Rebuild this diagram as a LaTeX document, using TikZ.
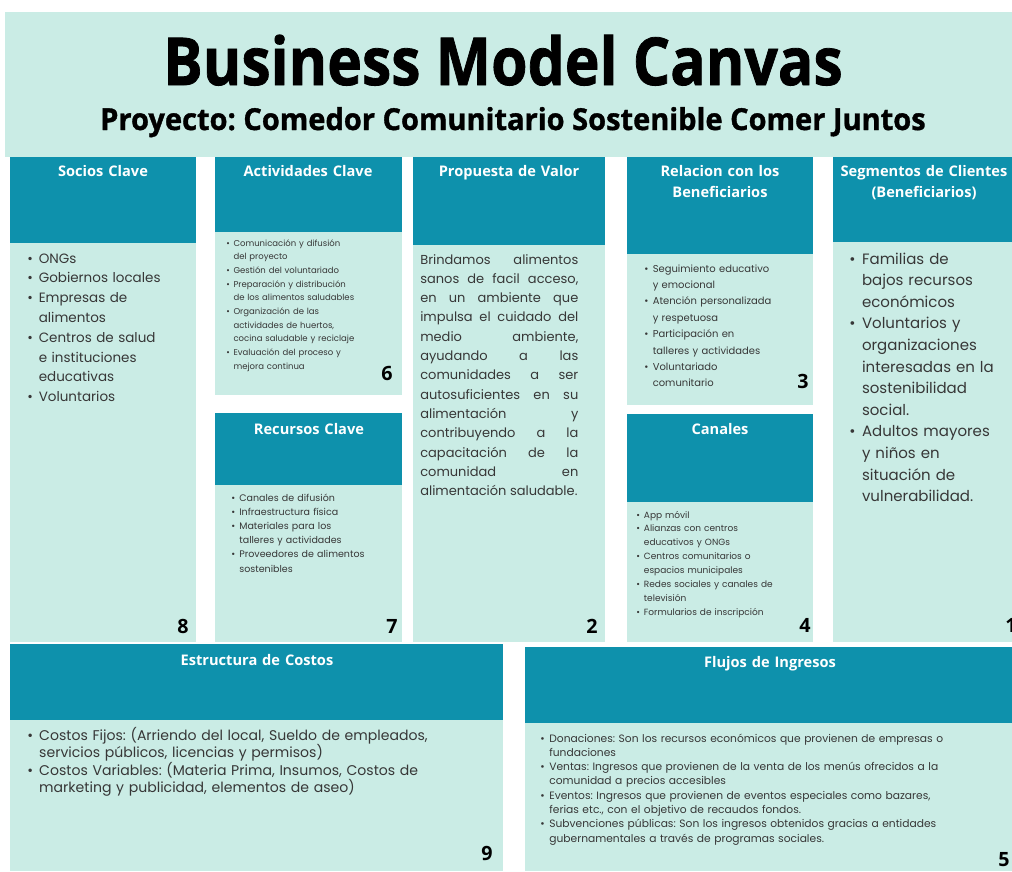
\documentclass[tikz,border=0pt]{standalone}
\usepackage{fontspec}
\setmainfont{Poppins}
\newfontfamily\headfont{Open Sans}
\newfontfamily\titlefont{Open Sans}[BoldFeatures={FakeBold=1.2}]
\definecolor{mintbg}{RGB}{202,236,229}
\definecolor{tealhead}{RGB}{14,145,172}
\definecolor{graytext}{RGB}{55,55,55}
\newcommand{\bul}{\makebox[0.85em][l]{\textbullet}}
\newcommand{\ind}{\hspace*{0.85em}}
\frenchspacing

\begin{document}
\begin{tikzpicture}[x=0.025cm, y=-0.025cm,
    headtxt/.style={font=\headfont\bfseries\fontsize{10.4}{15}\selectfont, text=white, align=center, anchor=base, text width=5cm, inner sep=0pt},
    bodytxt/.style={text=graytext, anchor=base west, inner sep=0pt, align=left},
    numtxt/.style={font=\headfont\bfseries\fontsize{14}{14}\selectfont, anchor=base east, inner sep=0pt}]
\useasboundingbox (0,0) rectangle (1012,871);
\fill[white] (0,0) rectangle (1012,871);
\fill[mintbg] (5,12) rectangle (1012,157);

% cards: left/top/right/header bottom/bottom
\foreach \xa/\ya/\xb/\ym/\yb in {10/157/196/243/642, 215/157/402/232/395, 215/413/402/485/642,
    413/157/605/245/642, 627/157/813/254/405, 627/414/813/502/642, 833/157/1012/242/642,
    10/644/503/720/871, 525/647/1012/723/871}{
    \fill[tealhead] (\xa,\ya) rectangle (\xb,\ym);
    \fill[mintbg] (\xa,\ym) rectangle (\xb,\yb);
}

% title
\node[font=\titlefont\bfseries\fontsize{47}{50}\selectfont, xscale=0.89, anchor=base] (title) at (503,85) {Business Model Canvas};
\node[font=\titlefont\bfseries\fontsize{21.5}{24}\selectfont, xscale=0.96, anchor=base] (subtitle) at (513,130) {Proyecto: Comedor Comunitario Sostenible Comer Juntos};

% headers
\node[headtxt] (socios) at (103,176) {Socios Clave};
\node[headtxt] (activ) at (308,176) {Actividades Clave};
\node[headtxt] (propuesta) at (509,176) {Propuesta de Valor};
\node[headtxt] (relacion) at (720,176) {Relacion con los\\Beneficiarios};
\node[headtxt] (segmentos) at (924,176) {Segmentos de Clientes\\(Beneficiarios)};
\node[headtxt] (recursos) at (309,434) {Recursos Clave};
\node[headtxt] (canales) at (720,434) {Canales};
\node[headtxt] (costos) at (257,665) {Estructura de Costos};
\node[headtxt] (ingresos) at (770,667) {Flujos de Ingresos};

% contents
\node[bodytxt, text width=4.3cm, font=\fontsize{9.6}{14.1}\selectfont] (sociostxt) at (27,263) {%
\bul ONGs\\
\bul Gobiernos locales\\
\bul Empresas de\\ \ind alimentos\\
\bul Centros de salud\\ \ind e instituciones\\ \ind educativas\\
\bul Voluntarios};

\node[bodytxt, text width=4.4cm, font=\fontsize{6.05}{9.75}\selectfont] (activtxt) at (226,246) {%
\bul Comunicación y difusión\\ \ind del proyecto\\
\bul Gestión del voluntariado\\
\bul Preparación y distribución\\ \ind de los alimentos saludables\\
\bul Organización de las\\ \ind actividades de huertos,\\ \ind cocina saludable y reciclaje\\
\bul Evaluación del proceso y\\ \ind mejora continua};

\node[bodytxt, text width=4.4cm, font=\fontsize{6.76}{10.1}\selectfont] (recursostxt) at (231,501) {%
\bul Canales de difusión\\
\bul Infraestructura física\\
\bul Materiales para los\\ \ind talleres y actividades\\
\bul Proveedores de alimentos\\ \ind sostenibles};

\node[bodytxt, text width=3.95cm, align=justify, font=\fontsize{9.25}{13.73}\selectfont] (propuestatxt) at (420,264) {%
\parfillskip=0pt plus 1fil\hyphenpenalty=10000
Brindamos alimentos\linebreak
sanos de facil acceso,\linebreak
en un ambiente que\linebreak
impulsa el cuidado del\linebreak
medio ambiente,\linebreak
ayudando a las\linebreak
comunidades a ser\linebreak
autosuficientes en su\linebreak
alimentación y\linebreak
contribuyendo a la\linebreak
capacitación de la\linebreak
comunidad en\linebreak
alimentación saludable.\par};

\node[bodytxt, text width=4.3cm, font=\fontsize{7.1}{11.67}\selectfont] (relaciontxt) at (644,272) {%
\bul Seguimiento educativo\\ \ind y emocional\\
\bul Atención personalizada\\ \ind y respetuosa\\
\bul Participación en\\ \ind talleres y actividades\\
\bul Voluntariado\\ \ind comunitario};

\node[bodytxt, text width=4.4cm, font=\fontsize{6.4}{9.89}\selectfont] (canalestxt) at (636,518) {%
\bul App móvil\\
\bul Alianzas con centros\\ \ind educativos y ONGs\\
\bul Centros comunitarios o\\ \ind espacios municipales\\
\bul Redes sociales y canales de\\ \ind televisión\\
\bul Formularios de inscripción};

\node[bodytxt, text width=4.2cm, font=\fontsize{10.67}{15.36}\selectfont] (segmentostxt) at (849,264) {%
\bul Familias de\\ \ind bajos recursos\\ \ind económicos\\
\bul Voluntarios y\\ \ind organizaciones\\ \ind interesadas en la\\ \ind sostenibilidad\\ \ind social.\\
\bul Adultos mayores\\ \ind y niños en\\ \ind situación de\\ \ind vulnerabilidad.};

\node[bodytxt, text width=11.8cm, font=\fontsize{10}{12.45}\selectfont] (costostxt) at (27,740) {%
\bul Costos Fijos: (Arriendo del local, Sueldo de empleados,\\ \ind servicios públicos, licencias y permisos)\\
\bul Costos Variables: (Materia Prima, Insumos, Costos de\\ \ind marketing y publicidad, elementos de aseo)};

\node[bodytxt, text width=11.8cm, font=\fontsize{7.6}{10.17}\selectfont] (ingresostxt) at (540,742) {%
\bul Donaciones: Son los recursos económicos que provienen de empresas o\\ \ind fundaciones\\
\bul Ventas: Ingresos que provienen de la venta de los menús ofrecidos a la\\ \ind comunidad a precios accesibles\\
\bul Eventos: Ingresos que provienen de eventos especiales como bazares,\\ \ind ferias etc., con el objetivo de recaudos fondos.\\
\bul Subvenciones públicas: Son los ingresos obtenidos gracias a entidades\\ \ind gubernamentales a través de programas sociales.};

% numbers
\node[numtxt] (n8) at (189,633) {8};
\node[numtxt] (n6) at (393,380) {6};
\node[numtxt] (n7) at (398,633) {7};
\node[numtxt] (n2) at (598,633) {2};
\node[numtxt] (n3) at (809,388) {3};
\node[numtxt] (n4) at (811,632) {4};
\node[numtxt, anchor=base west] (n1) at (1005,632) {1};
\node[numtxt] (n9) at (493,860) {9};
\node[numtxt] (n5) at (1010,866) {5};
\end{tikzpicture}
\end{document}
